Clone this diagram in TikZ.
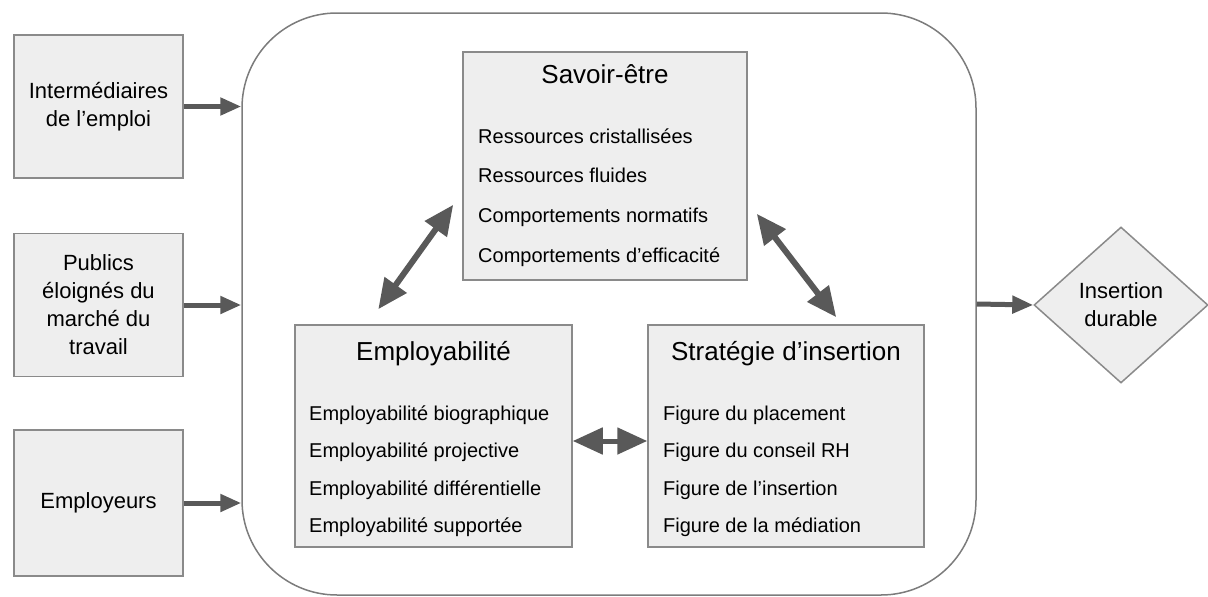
\documentclass[tikz,border=0pt]{standalone}
\usepackage{fontspec}
\setmainfont{Liberation Sans}
\usetikzlibrary{arrows.meta,shapes.geometric,positioning}
\definecolor{boxgray}{HTML}{EEEEEE}
\definecolor{linegray}{HTML}{8A8A8A}
\definecolor{arrowgray}{HTML}{595959}
\def\itemfont{\fontsize{20}{24}\selectfont}
\def\titlefont{\fontsize{26}{30}\selectfont}
\def\sidefont{\fontsize{22}{28}\selectfont}

\begin{document}
\begin{tikzpicture} [x=1pt, y=-1pt,
    side/.style={draw=linegray, line width=1.5pt, fill=boxgray, inner sep=0pt,
      minimum width=169pt, minimum height=143pt, align=center, font=\sidefont},
    inner/.style={draw=linegray, line width=1.5pt, fill=boxgray, inner sep=0pt},
    title/.style={font=\titlefont, anchor=base, inner sep=0pt},
    item/.style={font=\itemfont, anchor=base west, inner sep=0pt},
    flow/.style={color=arrowgray, line width=5pt, -{Triangle[length=21pt,width=17pt]}},
    link/.style={color=arrowgray, line width=6pt,
      {Triangle[length=30pt,width=26pt]}-{Triangle[length=30pt,width=26pt]}}
  ]
  \useasboundingbox (0,0) rectangle (1208,597);

  % outer frame
  \node[draw=linegray!90!black, line width=1.5pt, rounded corners=95pt,
    minimum width=734pt, minimum height=582pt] (core) at (609,304) {};

  % actors
  \node[side] (interm) at (98.5,106.5) {Intermédiaires\\de l’emploi};
  \node[side] (publics) at (98.5,305) {Publics\\éloignés du\\marché du\\travail};
  \node[side, minimum height=146pt] (employ) at (98.5,503) {Employeurs};

  % savoir-etre
  \node[inner, minimum width=284pt, minimum height=228pt] (savoir) at (605,166) {};
  \node[title] (savoir-t) at (605,83) {Savoir-être};
  \foreach \t [count=\i] in {Ressources cristallisées, Ressources fluides,
      Comportements normatifs, Comportements d’efficacité}
    \node[item] (savoir-\i) at (478,{103.5+39.7*\i}) {\t};

  % employabilite
  \node[inner, minimum width=277pt, minimum height=222pt] (emp) at (433.5,436) {};
  \node[title] (emp-t) at (433.5,360) {Employabilité};
  \foreach \t [count=\i] in {Employabilité biographique, Employabilité projective,
      Employabilité différentielle, Employabilité supportée}
    \node[item] (emp-\i) at (309,{382.5+37.5*\i}) {\t};

  % strategie
  \node[inner, minimum width=276pt, minimum height=222pt] (strat) at (786,436) {};
  \node[title] (strat-t) at (786,360) {Stratégie d’insertion};
  \foreach \t [count=\i] in {Figure du placement, Figure du conseil RH,
      Figure de l’insertion, Figure de la médiation}
    \node[item] (strat-\i) at (663,{382.5+37.5*\i}) {\t};

  % outcome
  \node[shape=diamond, draw=linegray, line width=1.5pt, fill=boxgray, inner sep=0pt,
    minimum width=174pt, minimum height=156pt, align=center, font=\sidefont]
    (goal) at (1121,305) {Insertion\\durable};

  \path[flow]
  (interm) edge (core.west |- interm.east)
  (publics) edge (core.west |- publics.east)
  (employ) edge (core.west |- employ.east)
  (core.east) edge (goal.west)
  ;
  \path[link]
  ([shift={(84,-15)}]emp.north west) edge ([shift={(-9,-76)}]savoir.south west)
  ([shift={(9,-67)}]savoir.south east) edge ([shift={(189,-7)}]strat.north west)
  ;
  \path[link, line width=5pt]
  ([yshift=-5pt]emp.east) edge ([yshift=-5pt]strat.west)
  ;
\end{tikzpicture}
\end{document}
